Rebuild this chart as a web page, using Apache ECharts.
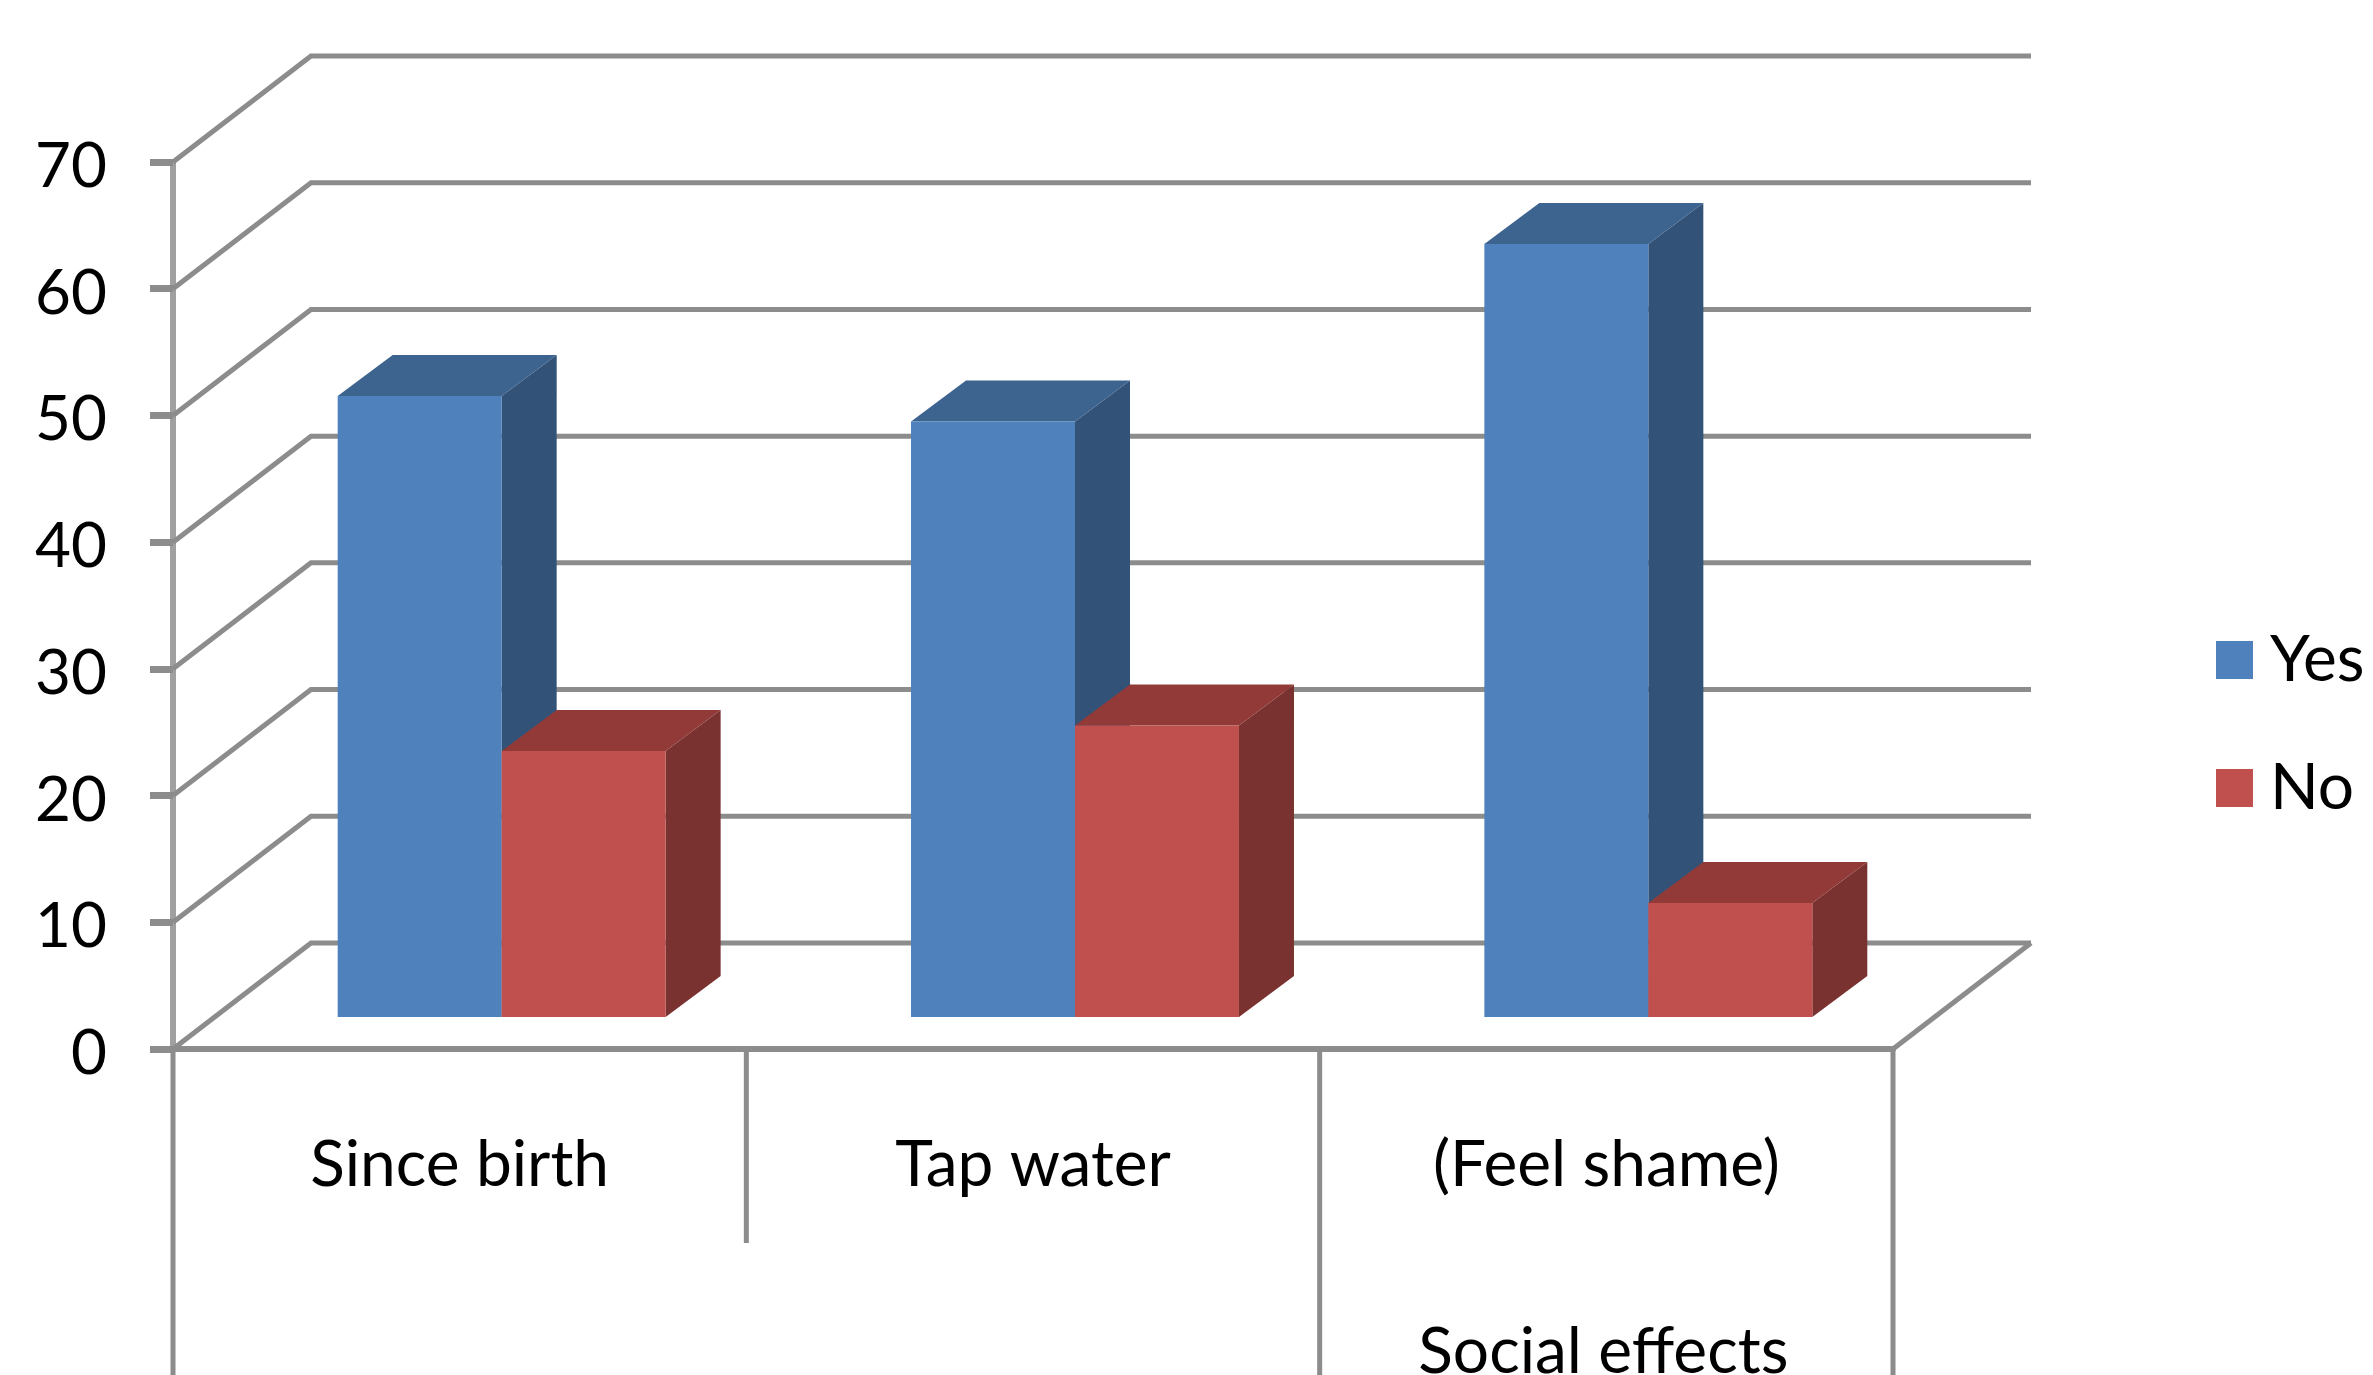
<!DOCTYPE html>
<html>
<head>
<meta charset="utf-8">
<style>html,body{margin:0;padding:0;background:#fff;overflow:hidden}#chart{width:2373px;height:1375px}</style>
<script src="https://cdn.jsdelivr.net/npm/echarts@6/dist/echarts.min.js"></script>
</head>
<body>
<div id="chart"></div>
<script>
// Survey answers per question, in percent
const categories = ['Since birth', 'Tap water', '(Feel shame)'];
const groupLabels = ['', '', 'Social effects'];
const yesValues = [49, 47, 61];
const noValues = [21, 23, 9];
const tickValues = [0, 10, 20, 30, 40, 50, 60, 70];

// Oblique projection used for the pseudo-3D box look
const FLOOR_DX = 138, FLOOR_DY = -106;   // front edge of floor -> back wall
const BAR_DX = 42, BAR_DY = -32;         // front edge of floor -> bar front face
const BOX_DX = 55, BOX_DY = -41;         // bar front face -> bar back face
const BAR_BAND = 0.286;                  // bar width as a share of a category band
const GRID_COLOR = '#8c8c8c';
const FONT = 'Lato';
const FONT_SIZE = 64;
const TICK_FONT_SIZE = 62;

function poly(points, fill) {
  return { type: 'polygon', shape: { points }, style: { fill }, silent: true };
}

// One series of oblique boxes. side: -1 sits left of the band centre, 0 right of it.
function boxSeries(name, values, side, front, top, flank) {
  return {
    name, type: 'custom', coordinateSystem: 'cartesian2d', z: 5,
    itemStyle: { color: front },
    data: values.map((v, i) => [i, v]),
    renderItem(params, api) {
      const cat = api.value(0), val = api.value(1);
      const base = api.coord([cat, 0]);
      const head = api.coord([cat, val]);
      const w = api.size([1, 0])[0] * BAR_BAND;
      const x0 = base[0] + BAR_DX + side * w, x1 = x0 + w;
      const yb = base[1] + BAR_DY, yt = head[1] + BAR_DY;
      return {
        type: 'group',
        children: [
          poly([[x1, yt], [x1 + BOX_DX, yt + BOX_DY], [x1 + BOX_DX, yb + BOX_DY], [x1, yb]], flank),
          poly([[x0, yt], [x0 + BOX_DX, yt + BOX_DY], [x1 + BOX_DX, yt + BOX_DY], [x1, yt]], top),
          poly([[x0, yb], [x0, yt], [x1, yt], [x1, yb]], front)
        ]
      };
    }
  };
}

const line = pts => ({
  type: 'polyline', shape: { points: pts }, silent: true,
  style: { stroke: GRID_COLOR, lineWidth: 5, fill: null, lineJoin: 'miter' }
});

// Wall gridlines: a slanted run along the left wall, then straight across the back
const wallSeries = {
  type: 'custom', coordinateSystem: 'cartesian2d', z: 1, silent: true,
  data: tickValues.map(v => [0, v]),
  renderItem(params, api) {
    const r = params.coordSys;
    const y = api.coord([0, api.value(1)])[1];
    return line([[r.x, y], [r.x + FLOOR_DX, y + FLOOR_DY], [r.x + r.width + FLOOR_DX, y + FLOOR_DY]]);
  }
};

// Floor outline on the right, and the dividers hanging below each category band
const dividerEnds = [1375, 1243, 1375, 1375];
const frameSeries = {
  type: 'custom', coordinateSystem: 'cartesian2d', z: 2, silent: true,
  data: dividerEnds.map((end, i) => [Math.min(i, categories.length - 1), 0, i, end]),
  renderItem(params, api) {
    const band = api.size([1, 0])[0];
    const p = api.coord([api.value(0), 0]);
    const i = api.value(2);
    const x = p[0] + (i < categories.length ? -band / 2 : band / 2);
    const children = [line([[x, p[1]], [x, api.value(3)]])];
    if (i === categories.length) {
      children.push(line([[x, p[1]], [x + FLOOR_DX, p[1] + FLOOR_DY]]));
    }
    return { type: 'group', children };
  }
};

// Second row of category labels
const groupSeries = {
  type: 'custom', coordinateSystem: 'cartesian2d', z: 3, silent: true,
  data: groupLabels.map((t, i) => [i, 0, t]),
  renderItem(params, api) {
    const p = api.coord([api.value(0), 0]);
    return {
      type: 'text', silent: true,
      style: {
        x: p[0] - 3, y: 1352, text: groupLabels[params.dataIndex],
        font: FONT_SIZE + 'px ' + FONT, fill: '#000', align: 'center', verticalAlign: 'middle'
      }
    };
  }
};

const chart = echarts.init(document.getElementById('chart'), null, { renderer: 'canvas' });
chart.setOption({
  animation: false,
  backgroundColor: '#fff',
  textStyle: { fontFamily: FONT },
  grid: { left: 173, top: 162, width: 1720, height: 887, containLabel: false },
  legend: {
    data: ['Yes', 'No'], orient: 'vertical', left: 2216, top: 628, padding: 0,
    icon: 'rect', itemWidth: 37, itemHeight: 38, itemGap: 64,
    selectedMode: false,
    textStyle: { fontFamily: FONT, fontSize: FONT_SIZE, color: '#000', lineHeight: 60, padding: [0, 0, 0, 12] }
  },
  xAxis: {
    type: 'category', data: categories,
    axisLine: { lineStyle: { color: GRID_COLOR, width: 6 } },
    axisTick: { show: false },
    axisLabel: { color: '#000', fontFamily: FONT, fontSize: FONT_SIZE, margin: 84 }
  },
  yAxis: {
    type: 'value', min: 0, max: 70, interval: 10,
    axisLine: { show: true, lineStyle: { color: '#a0a0a0', width: 6 } },
    axisTick: { show: true, length: 23, lineStyle: { color: GRID_COLOR, width: 7 } },
    splitLine: { show: false },
    axisLabel: {
      color: '#000', fontFamily: FONT, fontSize: TICK_FONT_SIZE, margin: 66,
      formatter: '{tick|{value}}',
      rich: { tick: { fontFamily: FONT, fontSize: TICK_FONT_SIZE, color: '#000', padding: [10, 0, 0, 0] } }
    }
  },
  series: [
    wallSeries,
    frameSeries,
    groupSeries,
    boxSeries('Yes', yesValues, -1, '#4f81bd', '#3d638f', '#325278'),
    boxSeries('No', noValues, 0, '#c0504d', '#923a38', '#7a3230')
  ]
});
</script>
</body>
</html>
